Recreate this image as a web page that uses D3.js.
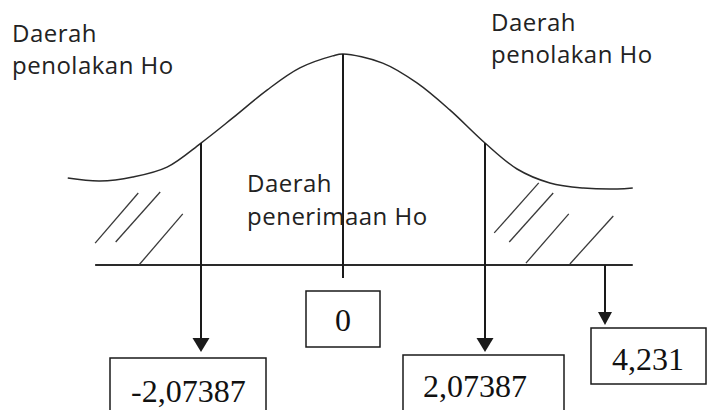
<!DOCTYPE html>
<html>
<head>
    <title></title>
    <meta charset="utf-8">
    <style>
        body { margin: 0; background: #fff; }
        svg { display: block; }
    </style>
</head>
<body>
<script src="https://d3js.org/d3.v7.min.js"></script>
<script>
    // values on the t axis and their boxed labels
    var tickValues = [-2.07387, 0, 2.07387, 4.231];
    var tickLabels = ['-2,07387', '0', '2,07387', '4,231'];

    // hand drawn curve (t, relative height above the axis line)
    var curveT = [-4.02, -3.55, -3.07, -2.57, -2.07387, -1.61, -1.11, -0.63, -0.15, 0,
                  0.58, 1.08, 1.56, 2.07387, 2.65, 3.24, 3.84, 4.45, 4.73];
    var curveH = [0.412, 0.398, 0.417, 0.464, 0.578, 0.697, 0.829, 0.934, 0.991, 1,
                  0.957, 0.863, 0.735, 0.578, 0.455, 0.389, 0.365, 0.360, 0.365];

    // extent of the horizontal axis line
    var axisExtent = [-3.62, 4.73];

    // hatch strokes in the rejection regions: [t1, h1, t2, h2]
    var hatchLeft = [[-3.62, 0.104, -2.99, 0.341], [-3.32, 0.109, -2.67, 0.346], [-2.98, 0, -2.34, 0.242]];
    var hatchRight = [[2.24, 0.152, 3.04, 0.389], [2.51, 0.109, 3.30, 0.341],
                      [2.81, 0.009, 3.58, 0.242], [3.60, 0.005, 4.38, 0.232]];

    // region labels
    var regionLabels = [['Daerah', 'penolakan Ho'], ['Daerah', 'penerimaan Ho'], ['Daerah', 'penolakan Ho']];

    var W = 707, H = 410;

    var svg = d3.select('body').append('svg')
        .attr('width', W)
        .attr('height', H);

    // the sketch axis is not proportional, so the scale is piecewise
    var x = d3.scaleLinear().domain(tickValues).range([201, 343, 485, 605]);
    var y = d3.scaleLinear().domain([0, 1]).range([265, 54]);
    var curveAt = d3.scaleLinear().domain(curveT).range(curveH);

    var ink = '#1a1a1a';

    // layout of each value's line, arrow and box
    var tickLayout = [
        { end: 352, head: true,  fromAxis: false, bx: -91, bw: 156, by: 358, bh: 70, tx: 21, ty: 402, anchor: 'start' },
        { end: 278, head: false, fromAxis: false, bx: -37, bw: 74,  by: 291, bh: 56, tx: 37, ty: 331, anchor: 'middle' },
        { end: 352, head: true,  fromAxis: false, bx: -82, bw: 161, by: 355, bh: 70, tx: 20, ty: 397, anchor: 'start' },
        { end: 325, head: true,  fromAxis: true,  bx: -14, bw: 115, by: 328, bh: 56, tx: 21, ty: 370, anchor: 'start' }
    ];

    // axis line
    svg.append('line')
        .attr('x1', x(axisExtent[0]))
        .attr('x2', x(axisExtent[1]))
        .attr('y1', y(0))
        .attr('y2', y(0))
        .attr('stroke', '#2a2a2a')
        .attr('stroke-width', 1.8);

    // curve
    var line = d3.line()
        .x(function (d) { return x(d[0]); })
        .y(function (d) { return y(d[1]); })
        .curve(d3.curveCatmullRom);

    svg.append('path')
        .datum(d3.zip(curveT, curveH))
        .attr('d', line)
        .attr('fill', 'none')
        .attr('stroke', '#2a2a2a')
        .attr('stroke-width', 1.5);

    // hatching
    svg.selectAll('line.hatch')
        .data(hatchLeft.concat(hatchRight))
        .enter().append('line')
        .attr('class', 'hatch')
        .attr('x1', function (d) { return x(d[0]); })
        .attr('y1', function (d) { return y(d[1]); })
        .attr('x2', function (d) { return x(d[2]); })
        .attr('y2', function (d) { return y(d[3]); })
        .attr('stroke', '#3a3a3a')
        .attr('stroke-width', 1.3);

    // value lines, arrows and boxes
    var ticks = svg.selectAll('g.tick')
        .data(tickValues)
        .enter().append('g')
        .attr('class', 'tick');

    ticks.append('line')
        .attr('x1', function (d) { return x(d); })
        .attr('x2', function (d) { return x(d); })
        .attr('y1', function (d, i) { return tickLayout[i].fromAxis ? y(0) : y(curveAt(d)); })
        .attr('y2', function (d, i) { return tickLayout[i].head ? tickLayout[i].end - 10 : tickLayout[i].end; })
        .attr('stroke', ink)
        .attr('stroke-width', 2);

    ticks.filter(function (d, i) { return tickLayout[i].head; })
        .append('path')
        .attr('d', function (d) {
            var i = tickValues.indexOf(d), L = tickLayout[i], cx = x(d);
            var hw = L.fromAxis ? 7 : 8.5, hh = L.fromAxis ? 13 : 14;
            return 'M' + (cx - hw) + ',' + (L.end - hh) + 'L' + (cx + hw) + ',' + (L.end - hh) + 'L' + cx + ',' + L.end + 'Z';
        })
        .attr('fill', ink);

    ticks.append('rect')
        .attr('x', function (d, i) { return x(d) + tickLayout[i].bx; })
        .attr('y', function (d, i) { return tickLayout[i].by; })
        .attr('width', function (d, i) { return tickLayout[i].bw; })
        .attr('height', function (d, i) { return tickLayout[i].bh; })
        .attr('fill', '#fff')
        .attr('stroke', ink)
        .attr('stroke-width', 1.5);

    ticks.append('text')
        .attr('x', function (d, i) { return x(d) + tickLayout[i].bx + tickLayout[i].tx; })
        .attr('y', function (d, i) { return tickLayout[i].ty; })
        .attr('text-anchor', function (d, i) { return tickLayout[i].anchor; })
        .attr('font-family', '"Liberation Serif", "Times New Roman", serif')
        .attr('font-size', 32)
        .attr('fill', '#111')
        .text(function (d, i) { return tickLabels[i]; });

    // region labels
    var labelPos = [
        { x: 12, y: 42, gap: 31.6 },
        { x: 247, y: 192, gap: 33 },
        { x: 491, y: 31, gap: 32.3 }
    ];

    var labels = svg.selectAll('text.region')
        .data(regionLabels)
        .enter().append('text')
        .attr('class', 'region')
        .attr('font-family', '"Open Sans", sans-serif')
        .attr('font-size', 24)
        .attr('letter-spacing', 0.5)
        .attr('fill', '#222');

    labels.selectAll('tspan')
        .data(function (d, i) { return d.map(function (s, j) { return { s: s, i: i, j: j }; }); })
        .enter().append('tspan')
        .attr('x', function (d) { return labelPos[d.i].x; })
        .attr('y', function (d) { return labelPos[d.i].y + d.j * labelPos[d.i].gap; })
        .text(function (d) { return d.s; });
</script>
</body>
</html>
